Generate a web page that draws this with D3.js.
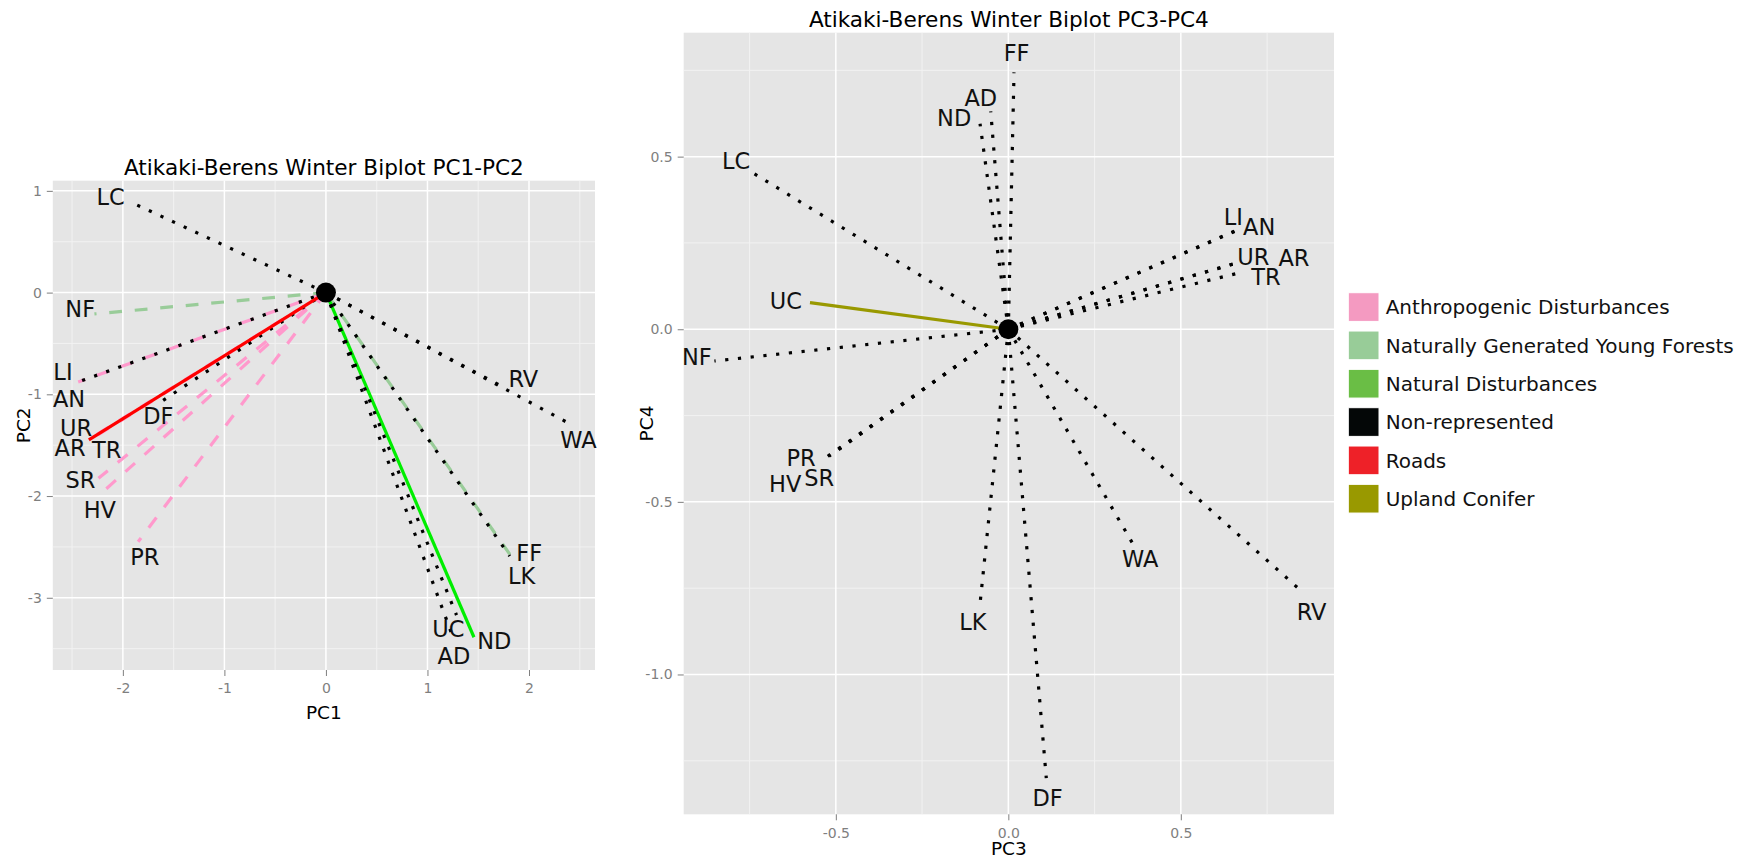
<!DOCTYPE html>
<html><head><meta charset="utf-8">
<script src="https://cdn.jsdelivr.net/npm/d3@7"></script>
<style>
body{margin:0;background:#fff;}
text{font-family:"DejaVu Sans",sans-serif;}
</style>
</head><body>
<svg id="chart" width="1752" height="860"></svg>
<script>
// ---------------- data ----------------
const variables = ["LC","NF","LI","AN","UR","AR","TR","DF","SR","HV","PR","RV","WA","FF","LK","UC","AD","ND"];

// PC1-PC2 panel: arrow ends, label positions (data units), legend group index
const pc1End   = [-1.89,-2.28,-2.44,-2.43,-2.33,-2.335,-2.32,-1.62,-2.24,-2.21,-1.85, 1.737, 2.404, 1.83, 1.81, 1.286, 1.261, 1.458];
const pc2End   = [ 0.875,-0.21,-0.88,-0.875,-1.44,-1.448,-1.445,-1.07,-1.825,-1.97,-2.45,-0.924,-1.291,-2.60,-2.59,-3.17,-3.415,-3.388];
const pc12LabX = [-2.12,-2.42,-2.59,-2.53,-2.46,-2.52,-2.16,-1.65,-2.417,-2.227,-1.783, 1.944, 2.488, 2.003, 1.928, 1.206, 1.261, 1.658];
const pc12LabY = [ 0.944,-0.154,-0.77,-1.04,-1.32,-1.52,-1.54,-1.21,-1.835,-2.127,-2.596,-0.842,-1.442,-2.557,-2.776,-3.30,-3.57,-3.415];
const pc12Group= [3,1,0,3,0,4,0,3,0,0,0,3,3,1,3,3,3,2];

// PC3-PC4 panel
const pc3End   = [-0.747,-0.852, 0.664, 0.66, 0.652, 0.655, 0.672, 0.110,-0.507,-0.52,-0.535, 0.857, 0.359, 0.0165,-0.081,-0.575,-0.051,-0.082];
const pc4End   = [ 0.457,-0.092, 0.288, 0.285, 0.189, 0.19, 0.164,-1.30,-0.359,-0.368,-0.376,-0.765,-0.618, 0.744,-0.785, 0.077, 0.631, 0.595];
const pc34LabX = [-0.789,-0.903, 0.652, 0.727, 0.71, 0.828, 0.747, 0.114,-0.548,-0.647,-0.601, 0.879, 0.382, 0.024,-0.103,-0.645,-0.08,-0.157];
const pc34LabY = [ 0.488,-0.079, 0.326, 0.297, 0.21, 0.209, 0.152,-1.355,-0.429,-0.445,-0.372,-0.817,-0.664, 0.803,-0.845, 0.083, 0.671, 0.614];
const pc34Group= [3,3,3,3,3,3,3,3,3,3,3,3,3,3,3,5,3,3];

// legend groups
const groups = ["Anthropogenic Disturbances","Naturally Generated Young Forests","Natural Disturbances","Non-represented","Roads","Upland Conifer"];
const groupKeyColors  = ["#F49AC1","#98CC98","#6ABE45","#040707","#EE2128","#999900"];
const groupLineColors = ["#FF99CC","#99CC99","#00EE00","#000000","#FF0000","#999900"];
const groupLineTypes  = ["dashed","dashed","solid","dotted","solid","solid"];

// axes
const pc1Domain = [-2.69, 2.65], pc2Domain = [-3.71, 1.10];
const pc1Ticks = [-2,-1,0,1,2], pc2Ticks = [1,0,-1,-2,-3];
const pc1Minor = [-2.5,-1.5,-0.5,0.5,1.5,2.5], pc2Minor = [0.5,-0.5,-1.5,-2.5,-3.5];
const pc3Domain = [-0.941, 0.944], pc4Domain = [-1.405, 0.859];
const pc3Ticks = [-0.5,0,0.5], pc4Ticks = [0.5,0,-0.5,-1.0];
const pc3Minor = [-0.75,-0.25,0.25,0.75], pc4Minor = [0.75,0.25,-0.25,-0.75,-1.25];

// ---------------- drawing ----------------
const svg = d3.select("#chart");
const LW = 3.2;
const dashFor = t => t === "dashed" ? `${4*LW},${4*LW}` : (t === "dotted" ? `${LW},${3*LW}` : null);

function drawPanel(o) {
  const x = d3.scaleLinear().domain(o.xDomain).range([o.x0, o.x1]);
  const y = d3.scaleLinear().domain(o.yDomain).range([o.y1, o.y0]);
  const g = svg.append("g");
  g.append("rect").attr("x", o.x0).attr("y", o.y0).attr("width", o.x1 - o.x0).attr("height", o.y1 - o.y0).attr("fill", "#E5E5E5");
  // minor grid
  g.selectAll(null).data(o.xMinor).join("line")
    .attr("x1", d => x(d)).attr("x2", d => x(d)).attr("y1", o.y0).attr("y2", o.y1)
    .attr("stroke", "#F2F2F2").attr("stroke-width", 1);
  g.selectAll(null).data(o.yMinor).join("line")
    .attr("y1", d => y(d)).attr("y2", d => y(d)).attr("x1", o.x0).attr("x2", o.x1)
    .attr("stroke", "#F2F2F2").attr("stroke-width", 1);
  // major grid
  g.selectAll(null).data(o.xTicks).join("line")
    .attr("x1", d => x(d)).attr("x2", d => x(d)).attr("y1", o.y0).attr("y2", o.y1)
    .attr("stroke", "#FFFFFF").attr("stroke-width", 1.5);
  g.selectAll(null).data(o.yTicks).join("line")
    .attr("y1", d => y(d)).attr("y2", d => y(d)).attr("x1", o.x0).attr("x2", o.x1)
    .attr("stroke", "#FFFFFF").attr("stroke-width", 1.5);

  // axes
  const ax = g.append("g").attr("transform", `translate(0,${o.y1})`)
    .call(d3.axisBottom(x).tickValues(o.xTicks).tickFormat(o.fmt).tickSize(6).tickPadding(7.5));
  const ay = g.append("g").attr("transform", `translate(${o.x0},0)`)
    .call(d3.axisLeft(y).tickValues(o.yTicks).tickFormat(o.fmt).tickSize(6).tickPadding(5));
  [ax, ay].forEach(a => {
    a.select(".domain").remove();
    a.selectAll(".tick line").attr("stroke", "#7F7F7F").attr("stroke-width", 1);
    a.selectAll(".tick text").attr("fill", "#7F7F7F").style("font-size", "14px")
      .style("font-family", "'DejaVu Sans',sans-serif");
  });

  // segments, drawn in legend-level order
  const idx = d3.range(variables.length).sort((a, b) => (o.group[a] - o.group[b]) || (a - b));
  g.selectAll(null).data(idx).join("line")
    .attr("x1", x(0)).attr("y1", y(0))
    .attr("x2", i => x(o.xe[i])).attr("y2", i => y(o.ye[i]))
    .attr("stroke", i => groupLineColors[o.group[i]])
    .attr("stroke-width", LW)
    .attr("stroke-linecap", "butt")
    .attr("stroke-dasharray", i => dashFor(groupLineTypes[o.group[i]]));
  // origin point
  g.append("circle").attr("cx", x(0)).attr("cy", y(0)).attr("r", 10).attr("fill", "#000");
  // labels
  g.selectAll(null).data(d3.range(variables.length)).join("text")
    .attr("transform", i => `translate(${x(o.xl[i])},${y(o.yl[i])}) scale(1,1.06)`)
    .attr("y", 8.2)
    .attr("text-anchor", "middle")
    .style("font-size", "22.5px").attr("fill", "#111")
    .text(i => variables[i]);

  // title
  g.append("text").attr("x", (o.x0 + o.x1) / 2).attr("y", o.titleY).attr("text-anchor", "middle")
    .style("font-size", "21.6px").attr("fill", "#000").text(o.title);
  // axis titles
  g.append("text").attr("x", (o.x0 + o.x1) / 2).attr("y", o.xTitleY).attr("text-anchor", "middle")
    .style("font-size", "18.5px").attr("fill", "#000").text(o.xTitle);
  g.append("text").attr("transform", `translate(${o.yTitleX},${(o.y0 + o.y1) / 2}) rotate(-90)`)
    .attr("text-anchor", "middle").style("font-size", "18.5px").attr("fill", "#000").text(o.yTitle);
}

drawPanel({
  x0: 52.8, x1: 595, y0: 180.7, y1: 670,
  xDomain: pc1Domain, yDomain: pc2Domain,
  xTicks: pc1Ticks, yTicks: pc2Ticks, xMinor: pc1Minor, yMinor: pc2Minor,
  fmt: d => String(d),
  xe: pc1End, ye: pc2End, xl: pc12LabX, yl: pc12LabY, group: pc12Group,
  title: "Atikaki-Berens Winter Biplot PC1-PC2", titleY: 175,
  xTitle: "PC1", xTitleY: 719.4, yTitle: "PC2", yTitleX: 29.8
});

drawPanel({
  x0: 683.7, x1: 1334, y0: 32.7, y1: 814.3,
  xDomain: pc3Domain, yDomain: pc4Domain,
  xTicks: pc3Ticks, yTicks: pc4Ticks, xMinor: pc3Minor, yMinor: pc4Minor,
  fmt: d => d.toFixed(1),
  xe: pc3End, ye: pc4End, xl: pc34LabX, yl: pc34LabY, group: pc34Group,
  title: "Atikaki-Berens Winter Biplot PC3-PC4", titleY: 26.8,
  xTitle: "PC3", xTitleY: 855, yTitle: "PC4", yTitleX: 652.8
});

// legend
const lg = svg.append("g");
const keyTop = 292.7, keyStep = 38.33, keyW = 30.7, keyH = 28.7, keyX = 1348.3;
lg.selectAll(null).data(groups).join("rect")
  .attr("x", keyX).attr("y", (d, i) => keyTop + i * keyStep)
  .attr("width", keyW).attr("height", keyH)
  .attr("fill", (d, i) => groupKeyColors[i]).attr("stroke", "#FFFFFF").attr("stroke-width", 1);
lg.selectAll(null).data(groups).join("text")
  .attr("x", 1385.7).attr("y", (d, i) => keyTop + i * keyStep + keyH / 2 + 7.3)
  .style("font-size", "20px").attr("fill", "#111").text(d => d);
</script>
</body></html>
